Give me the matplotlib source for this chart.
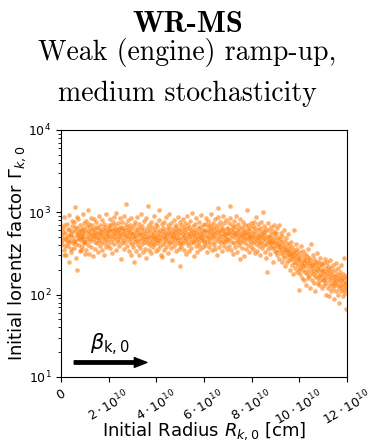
import numpy as np
import matplotlib
matplotlib.use('Agg')
import matplotlib.pyplot as plt
from matplotlib.ticker import FixedLocator, FixedFormatter

# --------------------------- data (R in 1e10 cm, Gamma) ---------------------------
seg0 = [(0.02,520),(0.03,460),(0.05,410),(0.07,640),(0.08,580),(0.10,880),(0.11,300),(0.12,350),(0.13,700),
        (0.15,470),(0.17,390),(0.18,560),(0.20,300),(0.22,480),(0.23,720),(0.25,430),(0.27,620),(0.28,510),
        (0.30,390),(0.31,250),(0.32,440),(0.33,610),(0.35,920),(0.37,530),(0.38,460),(0.40,330),(0.42,360),
        (0.43,540),(0.44,780),(0.45,680),(0.47,590),(0.48,420),(0.50,500),(0.52,760),(0.53,450),(0.55,370),
        (0.57,590),(0.58,660),(0.59,1160),(0.60,450),(0.62,280),(0.63,410),(0.65,530),(0.66,870),(0.67,640),
        (0.68,198),(0.69,550),(0.70,480),(0.72,820),(0.73,470),(0.74,400),(0.76,570),(0.78,340),(0.79,600),
        (0.80,690),(0.82,460),(0.83,350),(0.84,520),(0.86,610),(0.87,500),(0.88,380),(0.89,540),(0.90,940),
        (0.92,490),(0.93,650),(0.94,560),(0.96,430),(0.97,420),(0.98,730),(0.99,310)]
seg1 = [(1.01,610),(1.02,430),(1.04,780),(1.05,350),(1.07,520),(1.08,680),(1.10,470),(1.11,1070),(1.12,590),
        (1.14,400),(1.15,560),(1.17,720),(1.18,310),(1.20,490),(1.21,640),(1.23,450),(1.24,860),(1.26,530),
        (1.27,380),(1.29,600),(1.30,700),(1.32,470),(1.33,540),(1.35,290),(1.36,620),(1.38,510),(1.39,830),
        (1.41,440),(1.42,580),(1.44,360),(1.45,670),(1.47,500),(1.48,750),(1.50,420),(1.51,560),(1.53,640),
        (1.54,330),(1.56,480),(1.57,910),(1.59,550),(1.60,460),(1.62,610),(1.63,390),(1.65,700),(1.66,520),
        (1.68,440),(1.69,580),(1.71,800),(1.72,350),(1.74,490),(1.75,630),(1.77,540),(1.78,420),(1.80,720),
        (1.81,300),(1.83,590),(1.84,470),(1.86,660),(1.87,510),(1.89,380),(1.90,950),(1.92,560),(1.93,450),
        (1.95,610),(1.96,530),(1.98,400),(1.99,690)]
seg2 = [(2.01,480),(2.02,650),(2.04,370),(2.05,590),(2.07,820),(2.08,510),(2.10,440),(2.11,700),(2.13,600),
        (2.14,320),(2.16,540),(2.17,760),(2.19,470),(2.20,630),(2.22,880),(2.23,410),(2.25,560),(2.26,690),
        (2.28,500),(2.29,350),(2.31,620),(2.32,980),(2.34,460),(2.35,580),(2.37,730),(2.38,430),(2.40,520),
        (2.41,650),(2.43,390),(2.44,600),(2.46,840),(2.47,480),(2.49,560),(2.50,270),(2.52,670),(2.53,530),
        (2.55,420),(2.56,770),(2.58,590),(2.59,460),(2.61,640),(2.62,360),(2.64,550),(2.65,900),(2.67,500),
        (2.68,610),(2.70,440),(2.71,720),(2.73,1250),(2.74,530),(2.76,390),(2.77,660),(2.79,580),(2.80,470),
        (2.82,800),(2.83,340),(2.85,620),(2.86,510),(2.88,690),(2.89,430),(2.91,570),(2.92,860),(2.94,480),
        (2.95,300),(2.97,640),(2.98,540),(2.99,410)]
seg3 = [(3.01,560),(3.02,380),(3.04,690),(3.05,470),(3.07,250),(3.08,520),(3.10,770),(3.11,430),(3.13,600),
        (3.14,340),(3.16,510),(3.17,880),(3.19,460),(3.20,580),(3.22,400),(3.23,650),(3.25,300),(3.26,530),
        (3.28,720),(3.29,450),(3.31,560),(3.32,370),(3.34,620),(3.35,940),(3.37,490),(3.38,410),(3.40,680),
        (3.41,540),(3.43,330),(3.44,470),(3.46,790),(3.47,520),(3.49,430),(3.50,610),(3.52,360),(3.53,560),
        (3.55,470),(3.56,840),(3.58,280),(3.59,500),(3.61,640),(3.62,420),(3.64,580),(3.65,1180),(3.67,450),
        (3.68,350),(3.70,700),(3.71,510),(3.73,400),(3.74,600),(3.76,480),(3.77,760),(3.79,320),(3.80,550),
        (3.82,440),(3.83,660),(3.85,520),(3.86,380),(3.88,900),(3.89,470),(3.91,580),(3.92,410),(3.94,630),
        (3.95,500),(3.97,340),(3.98,720),(3.99,460)]
seg4 = [(4.01,530),(4.02,420),(4.04,680),(4.05,360),(4.07,570),(4.08,460),(4.10,810),(4.11,500),(4.13,1070),
        (4.14,390),(4.16,610),(4.17,450),(4.19,540),(4.20,300),(4.22,720),(4.23,480),(4.24,282),(4.26,590),
        (4.27,410),(4.29,650),(4.30,520),(4.32,350),(4.33,760),(4.35,470),(4.36,560),(4.38,430),(4.39,870),
        (4.41,500),(4.42,380),(4.44,620),(4.45,540),(4.47,320),(4.48,690),(4.50,460),(4.51,580),(4.53,410),
        (4.54,950),(4.56,510),(4.57,440),(4.59,640),(4.60,370),(4.62,560),(4.63,730),(4.65,480),(4.66,260),
        (4.68,600),(4.69,520),(4.71,430),(4.72,800),(4.74,550),(4.75,390),(4.77,660),(4.78,470),(4.80,580),
        (4.81,340),(4.83,700),(4.84,500),(4.86,420),(4.87,610),(4.89,880),(4.90,460),(4.92,540),(4.93,360),
        (4.95,630),(4.96,490),(4.98,750),(4.99,410)]
seg5 = [(5.00,221),(5.01,560),(5.02,440),(5.04,700),(5.05,380),(5.07,600),(5.08,490),(5.10,830),(5.11,420),
        (5.13,540),(5.14,660),(5.16,350),(5.17,510),(5.19,740),(5.20,460),(5.22,580),(5.23,310),(5.25,620),
        (5.26,480),(5.28,900),(5.29,430),(5.31,550),(5.32,690),(5.34,400),(5.35,520),(5.37,340),(5.38,640),
        (5.40,470),(5.41,780),(5.43,560),(5.44,420),(5.46,600),(5.47,370),(5.49,510),(5.50,980),(5.52,450),
        (5.53,580),(5.55,680),(5.56,290),(5.58,530),(5.59,440),(5.61,720),(5.62,490),(5.64,610),(5.65,390),
        (5.67,560),(5.68,850),(5.70,470),(5.71,330),(5.73,640),(5.74,520),(5.76,430),(5.77,760),(5.79,580),
        (5.80,400),(5.82,500),(5.83,670),(5.85,360),(5.86,550),(5.88,460),(5.89,920),(5.91,610),(5.92,480),
        (5.94,380),(5.95,700),(5.97,530),(5.98,440)]
seg6 = [(6.00,590),(6.02,460),(6.03,720),(6.05,400),(6.06,610),(6.08,520),(6.09,860),(6.11,440),(6.12,570),
        (6.14,330),(6.15,680),(6.17,500),(6.18,790),(6.20,470),(6.21,600),(6.23,380),(6.24,540),(6.26,700),
        (6.27,420),(6.29,620),(6.30,950),(6.32,480),(6.33,560),(6.35,350),(6.36,660),(6.38,510),(6.39,740),
        (6.41,430),(6.42,590),(6.44,400),(6.45,820),(6.47,540),(6.48,360),(6.50,640),(6.51,480),(6.53,700),
        (6.54,300),(6.56,580),(6.57,880),(6.59,450),(6.60,1120),(6.62,610),(6.63,520),(6.65,380),(6.66,750),
        (6.68,470),(6.69,560),(6.71,420),(6.72,680),(6.74,600),(6.75,340),(6.77,510),(6.78,910),(6.80,450),
        (6.81,620),(6.83,540),(6.84,390),(6.86,730),(6.87,490),(6.89,580),(6.90,430),(6.92,800),(6.93,530),
        (6.95,360),(6.96,650),(6.98,470),(6.99,560)]
seg7 = [(7.01,620),(7.02,450),(7.04,730),(7.05,390),(7.07,560),(7.08,850),(7.10,1200),(7.11,480),(7.13,600),
        (7.14,350),(7.16,530),(7.17,700),(7.19,430),(7.20,580),(7.22,310),(7.23,650),(7.25,500),(7.26,780),
        (7.28,420),(7.29,560),(7.31,680),(7.32,380),(7.34,540),(7.35,900),(7.37,460),(7.38,600),(7.40,330),
        (7.41,520),(7.43,720),(7.44,440),(7.46,580),(7.47,400),(7.49,640),(7.50,270),(7.52,490),(7.53,820),
        (7.55,550),(7.56,430),(7.58,660),(7.59,370),(7.61,510),(7.62,600),(7.64,460),(7.65,760),(7.67,530),
        (7.68,290),(7.70,580),(7.71,420),(7.73,690),(7.74,480),(7.76,560),(7.77,360),(7.79,620),(7.80,1070),
        (7.82,470),(7.83,540),(7.85,400),(7.86,700),(7.88,500),(7.89,330),(7.91,590),(7.92,450),(7.94,640),
        (7.95,520),(7.97,380),(7.98,740),(7.99,480)]
seg8 = [(8.01,560),(8.02,420),(8.04,680),(8.05,360),(8.07,510),(8.08,770),(8.10,450),(8.11,590),(8.13,320),
        (8.14,480),(8.16,650),(8.17,410),(8.19,540),(8.20,880),(8.22,460),(8.23,340),(8.25,600),(8.26,500),
        (8.28,720),(8.29,390),(8.31,530),(8.32,440),(8.34,640),(8.35,300),(8.37,480),(8.38,560),(8.40,420),
        (8.41,760),(8.43,510),(8.44,370),(8.46,590),(8.47,460),(8.49,1000),(8.50,400),(8.52,530),(8.53,680),
        (8.55,330),(8.56,470),(8.58,570),(8.59,410),(8.61,620),(8.62,280),(8.64,186),(8.65,500),(8.67,430),
        (8.68,740),(8.70,360),(8.71,520),(8.73,450),(8.74,600),(8.76,390),(8.77,480),(8.79,310),(8.80,660),
        (8.82,420),(8.83,540),(8.85,370),(8.86,460),(8.88,590),(8.89,250),(8.91,430),(8.92,700),(8.94,380),
        (8.95,500),(8.97,340),(8.98,560),(8.99,420)]
seg9 = [(9.01,460),(9.02,330),(9.04,560),(9.05,390),(9.07,640),(9.08,300),(9.10,420),(9.11,500),(9.13,350),
        (9.14,700),(9.16,400),(9.17,270),(9.19,470),(9.20,380),(9.22,560),(9.23,320),(9.25,430),(9.26,250),
        (9.28,360),(9.29,520),(9.31,400),(9.32,300),(9.34,610),(9.35,340),(9.37,450),(9.38,280),(9.40,380),
        (9.41,220),(9.43,330),(9.44,480),(9.46,360),(9.47,290),(9.49,420),(9.50,250),(9.52,340),(9.53,540),
        (9.55,310),(9.56,400),(9.58,260),(9.59,360),(9.61,200),(9.62,300),(9.64,440),(9.65,270),(9.67,330),
        (9.68,230),(9.70,380),(9.71,290),(9.73,180),(9.74,320),(9.76,615),(9.77,250),(9.79,350),(9.80,280),
        (9.82,210),(9.83,300),(9.85,410),(9.86,240),(9.88,330),(9.89,190),(9.91,270),(9.92,360),(9.94,230),
        (9.95,300),(9.97,113),(9.98,260),(9.99,200)]
seg10 = [(10.01,280),(10.02,210),(10.04,330),(10.05,180),(10.07,250),(10.08,390),(10.10,230),(10.11,160),
         (10.13,290),(10.14,220),(10.16,340),(10.17,200),(10.19,260),(10.20,150),(10.22,240),(10.23,310),
         (10.25,190),(10.26,270),(10.28,130),(10.29,220),(10.31,290),(10.32,180),(10.34,250),(10.35,360),
         (10.37,200),(10.38,160),(10.40,240),(10.41,280),(10.43,170),(10.44,220),(10.46,120),(10.47,260),
         (10.49,190),(10.50,410),(10.52,230),(10.53,150),(10.55,210),(10.56,300),(10.58,180),(10.59,240),
         (10.61,140),(10.62,200),(10.64,270),(10.65,170),(10.67,230),(10.68,110),(10.70,190),(10.71,250),
         (10.73,160),(10.74,210),(10.76,320),(10.77,140),(10.79,200),(10.80,250),(10.82,170),(10.83,130),
         (10.85,220),(10.86,180),(10.88,280),(10.89,150),(10.91,200),(10.92,240),(10.94,120),(10.95,170),
         (10.97,230),(10.98,150),(10.99,190)]
seg11 = [(11.01,200),(11.02,150),(11.04,240),(11.05,130),(11.07,180),(11.08,270),(11.10,160),(11.11,100),
         (11.13,210),(11.14,140),(11.16,190),(11.17,250),(11.19,120),(11.20,170),(11.22,220),(11.23,95),
         (11.25,150),(11.26,200),(11.28,130),(11.29,180),(11.31,260),(11.32,110),(11.34,160),(11.35,210),
         (11.37,140),(11.38,190),(11.40,120),(11.41,170),(11.43,230),(11.44,130),(11.46,150),(11.47,88),
         (11.49,200),(11.50,140),(11.52,170),(11.53,110),(11.55,240),(11.56,150),(11.58,130),(11.59,180),
         (11.61,100),(11.62,160),(11.64,210),(11.65,120),(11.67,145),(11.68,79),(11.70,170),(11.71,130),
         (11.73,190),(11.74,110),(11.76,150),(11.77,230),(11.79,125),(11.80,160),(11.82,95),(11.83,140),
         (11.85,180),(11.86,115),(11.88,150),(11.89,275),(11.91,130),(11.92,170),(11.94,105),(11.95,140),
         (11.97,66),(11.98,120),(11.99,160)]

segments = [seg0, seg1, seg2, seg3, seg4, seg5, seg6, seg7, seg8, seg9, seg10, seg11]

xtick_vals = [0, 2, 4, 6, 8, 10, 12]
xtick_labels = ['$0$'] + [r'$%d\cdot10^{10}$' % v for v in xtick_vals[1:]]

# --------------------------- collect ---------------------------
pts = np.array([p for seg in segments for p in seg], dtype=float)
R0 = pts[:, 0] * 1.e10
G0 = pts[:, 1]

# --------------------------- plotting ---------------------------
fig = plt.figure(figsize=(3.75, 4.43), dpi=100)
ax = fig.add_axes([0.163, 0.149, 0.762, 0.558])

ax.scatter(R0, G0, s=11, color='#ff7f0e', alpha=0.6, linewidths=0)

ax.set_yscale('log')
ax.set_ylim(10, 1.e4)
ax.set_xlim(0, 12.e10)

ax.xaxis.set_major_locator(FixedLocator([v * 1.e10 for v in xtick_vals]))
ax.xaxis.set_major_formatter(FixedFormatter(xtick_labels))
for lab in ax.get_xticklabels():
    lab.set_rotation(30)
ax.tick_params(labelsize=9)

ax.set_xlabel(r'Initial Radius $R_{k,0}$ [cm]', fontsize=13)
ax.set_ylabel(r'Initial lorentz factor $\Gamma_{k,0}$', fontsize=13)
ax.xaxis.set_label_coords(0.5, -0.175)
ax.yaxis.set_label_coords(-0.115, 0.5)

# direction arrow
ax.annotate('', xy=(3.6e10, 15), xytext=(0.55e10, 15),
            arrowprops=dict(facecolor='black', edgecolor='black', width=2.4,
                            headwidth=7, headlength=9, shrink=0))
ax.text(2.05e10, 24.5, r'$\beta_{\mathrm{k,0}}$', fontsize=15, ha='center', va='center')

# titles
fig.text(0.5, 0.928, 'WR-MS', family='cmb10', fontsize=22, ha='center', va='baseline')
fig.text(0.5, 0.8646, 'Weak (engine) ramp-up,', family='cmr10', fontsize=20, ha='center', va='baseline')
fig.text(0.5, 0.772, 'medium stochasticity', family='cmr10', fontsize=20, ha='center', va='baseline')

plt.savefig('out.png', dpi=100)
